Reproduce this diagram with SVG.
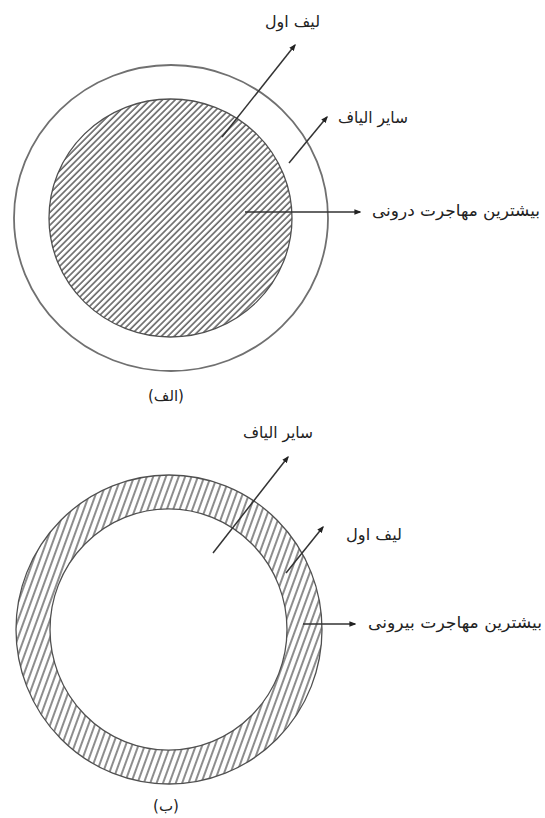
<svg xmlns="http://www.w3.org/2000/svg" width="545" height="818" viewBox="0 0 545 818">
<style>
.lbl{font-family:"DejaVu Sans","Noto Sans",sans-serif;font-size:16px;fill:#222;text-anchor:middle;}
.cap{font-family:"DejaVu Sans","Noto Sans",sans-serif;font-size:15px;fill:#222;text-anchor:middle;}
.outer{fill:none;stroke:#707070;stroke-width:1.8;}
.edge{stroke:#505050;stroke-width:1.3;}
.arr{stroke:#333;stroke-width:1.5;fill:none;marker-end:url(#ah);}
</style>
<defs>
<marker id="ah" viewBox="0 0 10 10" refX="8" refY="5" markerWidth="7" markerHeight="7" markerUnits="userSpaceOnUse" orient="auto">
<path d="M0,1 L10,5 L0,9 Z" fill="#222"/>
</marker>
<pattern id="hatchA" width="4.5" height="10" patternUnits="userSpaceOnUse" patternTransform="rotate(45)">
<line x1="1" y1="0" x2="1" y2="10" stroke="#666" stroke-width="1.6"/>
</pattern>
<pattern id="hatchB" width="6" height="10" patternUnits="userSpaceOnUse" patternTransform="rotate(20)">
<line x1="1" y1="0" x2="1" y2="10" stroke="#666" stroke-width="1.5"/>
</pattern>
</defs>
<rect width="545" height="818" fill="#fff"/>

<g id="fig-a">
<ellipse class="outer" cx="171" cy="218" rx="157" ry="153"/>
<ellipse class="edge" cx="170.5" cy="218" rx="121.5" ry="119" fill="url(#hatchA)"/>
</g>

<g id="fig-b">
<path class="edge" fill="url(#hatchB)" fill-rule="evenodd" d="M16,629.5 A153,154.5 0 1,0 322,629.5 A153,154.5 0 1,0 16,629.5 Z M50,629.5 A118.5,120.5 0 1,0 287,629.5 A118.5,120.5 0 1,0 50,629.5 Z"/>
</g>

<g id="connectors">
<line class="arr" x1="222" y1="137" x2="295" y2="45"/>
<line class="arr" x1="289" y1="163" x2="327" y2="117"/>
<line class="arr" x1="245" y1="212" x2="360" y2="212"/>
<line class="arr" x1="213" y1="553" x2="288" y2="457"/>
<line class="arr" x1="286" y1="573" x2="323" y2="527"/>
<line class="arr" x1="303" y1="624" x2="355" y2="624"/>
</g>

<g id="labels-a">
<text class="lbl" x="292.5" y="27" direction="rtl" textLength="55" lengthAdjust="spacingAndGlyphs">لیف اول</text>
<text class="lbl" x="373" y="123" direction="rtl" textLength="70" lengthAdjust="spacingAndGlyphs">سایر الیاف</text>
<text class="lbl" x="456" y="216" direction="rtl" textLength="168" lengthAdjust="spacingAndGlyphs">بیشترین مهاجرت درونی</text>
<text class="cap" x="166" y="401" direction="rtl">(الف)</text>
</g>

<g id="labels-b">
<text class="lbl" x="278" y="438" direction="rtl" textLength="70" lengthAdjust="spacingAndGlyphs">سایر الیاف</text>
<text class="lbl" x="374" y="540" direction="rtl" textLength="56" lengthAdjust="spacingAndGlyphs">لیف اول</text>
<text class="lbl" x="455" y="628" direction="rtl" textLength="174" lengthAdjust="spacingAndGlyphs">بیشترین مهاجرت بیرونی</text>
<text class="cap" x="166" y="811" direction="rtl">(ب)</text>
</g>
</svg>
